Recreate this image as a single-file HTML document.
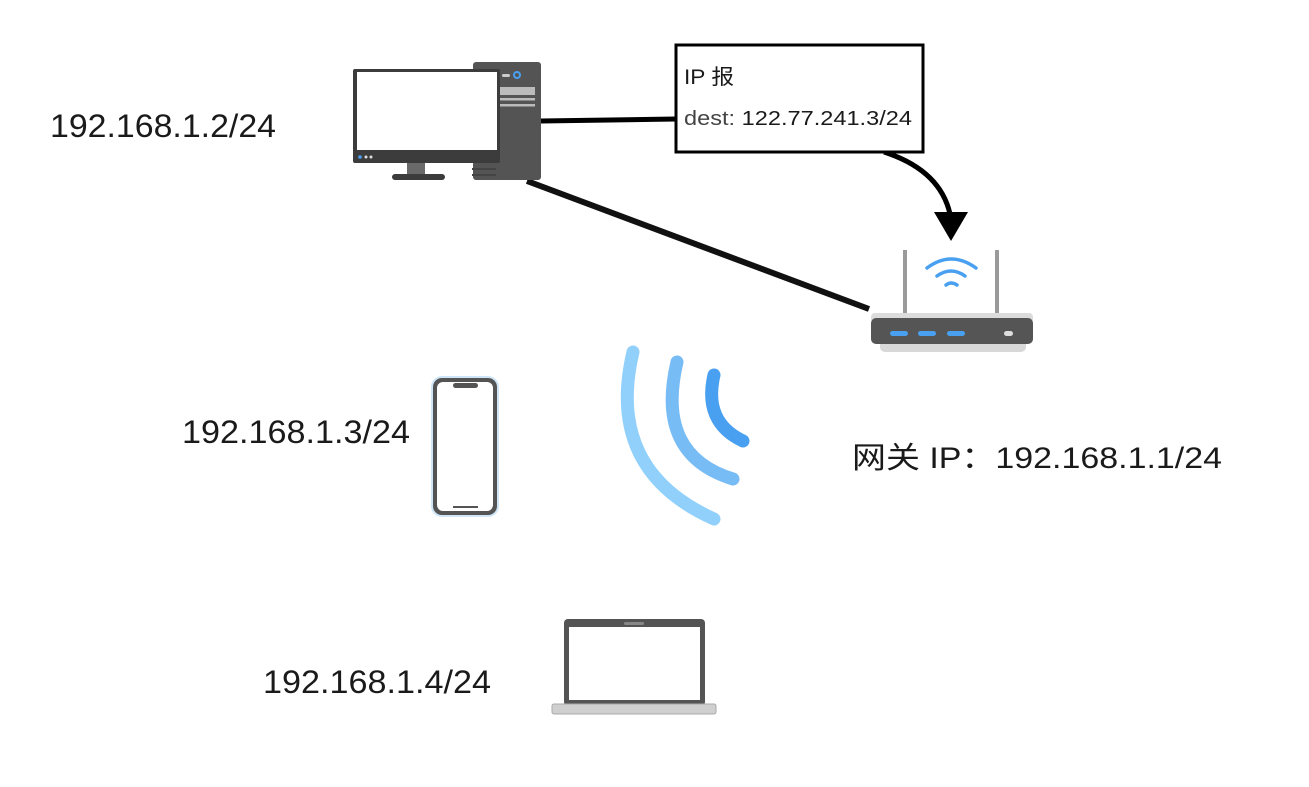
<!DOCTYPE html>
<html><head><meta charset="utf-8"><style>
html,body{margin:0;padding:0;background:#fff;}
svg{display:block;}
text{font-family:"Liberation Sans","Noto Sans CJK SC",sans-serif;fill:#1a1a1a;}
</style></head><body>
<svg width="1309" height="787" viewBox="0 0 1309 787" xmlns="http://www.w3.org/2000/svg">
<text x="50" y="137" font-size="32" textLength="226" lengthAdjust="spacingAndGlyphs">192.168.1.2/24</text>
<text x="182" y="443" font-size="32" textLength="228" lengthAdjust="spacingAndGlyphs">192.168.1.3/24</text>
<text x="263" y="693" font-size="32" textLength="228" lengthAdjust="spacingAndGlyphs">192.168.1.4/24</text>
<text x="852" y="468" font-size="30" textLength="370" lengthAdjust="spacingAndGlyphs">网关 IP：192.168.1.1/24</text>

<line x1="541" y1="121" x2="676" y2="119" stroke="#000" stroke-width="5"/>
<line x1="527" y1="181" x2="869" y2="309" stroke="#111" stroke-width="6"/>
<path d="M884 152 Q940 170 950 214" fill="none" stroke="#000" stroke-width="5"/>
<polygon points="934,212 968,212 951,241" fill="#000"/>

<rect x="676" y="45" width="247" height="107" fill="#fff" stroke="#000" stroke-width="3"/>
<text x="684" y="84" font-size="21" textLength="50" lengthAdjust="spacingAndGlyphs">IP 报</text>
<text x="684" y="125" font-size="20" fill="#333" textLength="228" lengthAdjust="spacingAndGlyphs"><tspan fill="#444">dest: </tspan>122.77.241.3/24</text>

<rect x="473" y="62" width="68" height="118" rx="3" fill="#545454"/>
<rect x="502" y="74" width="8" height="3" rx="1.5" fill="#ccc"/>
<circle cx="517" cy="75" r="3" fill="none" stroke="#4aa0f0" stroke-width="2"/>
<rect x="479" y="87" width="56" height="8" fill="#bbb"/>
<rect x="479" y="98" width="56" height="2.5" fill="#bbb"/>
<rect x="479" y="104" width="56" height="2.5" fill="#bbb"/>
<rect x="472" y="168" width="24" height="2" fill="#444"/>
<rect x="472" y="174" width="24" height="2" fill="#444"/>
<rect x="353" y="69" width="147" height="94" rx="2" fill="#3c3c3c"/>
<rect x="357" y="72" width="140" height="78" fill="#fff"/>
<circle cx="360" cy="157" r="1.8" fill="#4aa0f0"/>
<circle cx="366" cy="157" r="1.5" fill="#ddd"/>
<circle cx="371" cy="157" r="1.5" fill="#ddd"/>
<rect x="407" y="163" width="18" height="12" fill="#6a6a6a"/>
<rect x="392" y="174" width="53" height="6" rx="3" fill="#3c3c3c"/>

<rect x="903" y="250" width="4" height="66" fill="#9a9a9a"/>
<rect x="995" y="250" width="4" height="66" fill="#9a9a9a"/>
<rect x="880" y="330" width="146" height="22" rx="5" fill="#d8d8d8"/>
<rect x="871" y="313" width="162" height="10" rx="4" fill="#dcdcdc"/>
<rect x="871" y="318" width="162" height="26" rx="5" fill="#555"/>
<rect x="890" y="331" width="18" height="5" rx="2.5" fill="#4aa0f0"/>
<rect x="918" y="331" width="18" height="5" rx="2.5" fill="#4aa0f0"/>
<rect x="947" y="331" width="18" height="5" rx="2.5" fill="#4aa0f0"/>
<rect x="1004" y="331" width="9" height="5" rx="2.5" fill="#ddd"/>
<path d="M927 268 Q951 250 976 268" fill="none" stroke="#4aa0f0" stroke-width="3.5" stroke-linecap="round"/>
<path d="M937 276 Q951 266 965 276" fill="none" stroke="#4aa0f0" stroke-width="3.5" stroke-linecap="round"/>
<path d="M946 285 Q951 281 957 285" fill="none" stroke="#4aa0f0" stroke-width="3.5" stroke-linecap="round"/>

<path d="M633 352 Q605 470 714 519" fill="none" stroke="#90d0fb" stroke-width="13" stroke-linecap="round"/>
<path d="M677 362 Q655 455 733 479" fill="none" stroke="#78bcf5" stroke-width="13" stroke-linecap="round"/>
<path d="M714 375 Q703 422 743 441" fill="none" stroke="#4aa0f0" stroke-width="13" stroke-linecap="round"/>

<rect x="431" y="376" width="68" height="141" rx="11" fill="#cfe6f8"/>
<rect x="433" y="378" width="64" height="137" rx="9" fill="#545454"/>
<rect x="437" y="382" width="56" height="129" rx="6" fill="#fff"/>
<rect x="453" y="383" width="25" height="5" rx="2.5" fill="#545454"/>
<rect x="453" y="506" width="25" height="2" fill="#545454"/>

<rect x="564" y="619" width="141" height="87" rx="4" fill="#545454"/>
<rect x="569" y="627" width="131" height="73" fill="#fff"/>
<rect x="624" y="622" width="20" height="3" rx="1.5" fill="#888"/>
<rect x="552" y="704" width="164" height="10" rx="2" fill="#cfcfcf" stroke="#aaa" stroke-width="1"/>
</svg>
</body></html>
